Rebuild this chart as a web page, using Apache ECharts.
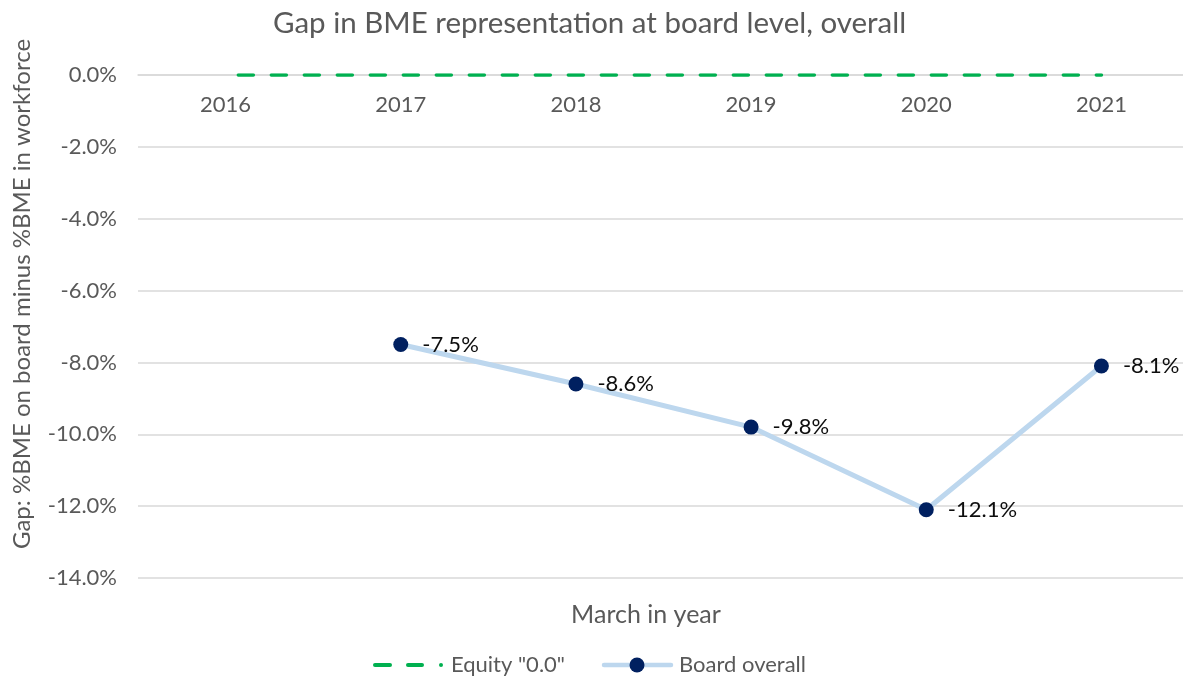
<!DOCTYPE html>
<html>
<head>
<meta charset="utf-8">
<script src="https://cdn.jsdelivr.net/npm/echarts@6/dist/echarts.min.js"></script>
<style>html,body{margin:0;padding:0;background:#fff;overflow:hidden}#c{width:1200px;height:680px}</style>
</head>
<body>
<div id="c"></div>
<script>
var categories = ['2016', '2017', '2018', '2019', '2020', '2021'];
var equity = [0, 0, 0, 0, 0, 0];
var board = [null, -7.5, -8.6, -9.8, -12.1, -8.1];
var yTicks = { min: -14, max: 0, interval: 2 };
var seriesNames = ['Equity "0.0"', 'Board overall'];
var FONT = 'Lato, "Open Sans", "Liberation Sans", sans-serif';
var chart = echarts.init(document.getElementById('c'), null, { renderer: 'canvas' });
chart.setOption({
  animation: false,
  textStyle: { fontFamily: FONT },
  title: {
    text: 'Gap in BME representation at board level, overall',
    left: 268, top: 3,
    textStyle: { fontFamily: FONT, fontSize: 29.5, fontWeight: 'normal', color: '#595959' }
  },
  graphic: [
    { type: 'text', x: 22, y: 294, rotation: Math.PI / 2,
      style: { text: 'Gap: %BME on board minus %BME in workforce', font: '24px ' + FONT, fill: '#595959',
        textAlign: 'center', textVerticalAlign: 'middle' } },
    { type: 'text', x: 646, y: 615,
      style: { text: 'March in year', font: '25px ' + FONT, fill: '#595959',
        textAlign: 'center', textVerticalAlign: 'middle' } },
    // legend
    { type: 'line', shape: { x1: 375, y1: 665, x2: 390, y2: 665 }, style: { stroke: '#00B050', lineWidth: 4, lineCap: 'round' } },
    { type: 'line', shape: { x1: 408, y1: 665, x2: 422, y2: 665 }, style: { stroke: '#00B050', lineWidth: 4, lineCap: 'round' } },
    { type: 'circle', shape: { cx: 441, cy: 665, r: 2 }, style: { fill: '#00B050' } },
    { type: 'text', x: 451, y: 665, style: { text: seriesNames[0], font: '22px ' + FONT, fill: '#595959', textVerticalAlign: 'middle' } },
    { type: 'line', shape: { x1: 604, y1: 665, x2: 671, y2: 665 }, style: { stroke: '#BDD7EE', lineWidth: 4.5, lineCap: 'round' } },
    { type: 'circle', shape: { cx: 637, cy: 665, r: 7.5 }, style: { fill: '#002060' } },
    { type: 'text', x: 679, y: 665, style: { text: seriesNames[1], font: '22px ' + FONT, fill: '#595959', textVerticalAlign: 'middle' } }
  ],
  grid: { left: 138, top: 75, width: 1051, bottom: 102, containLabel: false },
  xAxis: {
    type: 'category', data: categories, boundaryGap: true, position: 'top',
    axisLine: { show: true, lineStyle: { color: '#D9D9D9', width: 1.5 } },
    axisTick: { show: false },
    axisLabel: { inside: true, fontFamily: FONT, fontSize: 22, color: '#595959', margin: 19 },
    splitLine: { show: false }
  },
  yAxis: {
    type: 'value', min: yTicks.min, max: yTicks.max, interval: yTicks.interval,
    axisLine: { show: false }, axisTick: { show: false },
    axisLabel: { fontFamily: FONT, fontSize: 22, color: '#595959', margin: 21,
      formatter: function (v) { return v.toFixed(1) + '%'; } },
    splitLine: { lineStyle: { color: '#D9D9D9', width: 1.5 } }
  },
  series: [
    { name: seriesNames[0], type: 'line', data: equity, symbol: 'none',
      lineStyle: { color: '#00B050', width: 3.5, type: [15, 18], dashOffset: 20.25, cap: 'round' },
      itemStyle: { color: '#00B050' }, z: 3 },
    { name: seriesNames[1], type: 'line', data: board, symbol: 'circle', symbolSize: 15,
      lineStyle: { color: '#BDD7EE', width: 5 },
      itemStyle: { color: '#002060' },
      label: { show: true, position: 'right', distance: 14, fontFamily: FONT, fontSize: 22, color: '#0D0D0D',
        formatter: function (p) { return p.value.toFixed(1) + '%'; } },
      z: 4 }
  ]
});
</script>
</body>
</html>
